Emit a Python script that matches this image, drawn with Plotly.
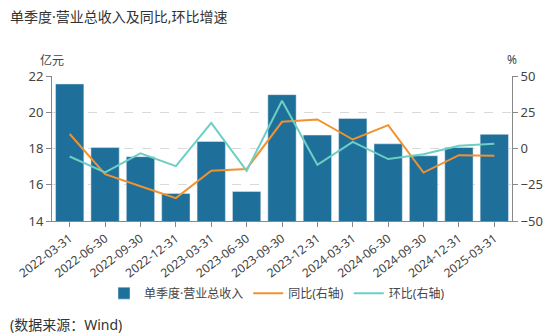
import plotly.graph_objects as go

dates = ["2022-03-31", "2022-06-30", "2022-09-30", "2022-12-31", "2023-03-31", "2023-06-30",
         "2023-09-30", "2023-12-31", "2024-03-31", "2024-06-30", "2024-09-30", "2024-12-31", "2025-03-31"]
revenue = [21.56, 18.05, 17.55, 15.52, 18.39, 15.63, 20.97, 18.74, 19.66, 18.26, 17.6, 18.06, 18.78]
yoy = [10.0, -17.7, -26.0, -34.2, -15.4, -14.2, 18.4, 20.0, 6.2, 16.1, -16.6, -4.6, -5.0]
qoq = [-5.5, -16.5, -3.4, -12.2, 17.7, -15.4, 32.9, -11.2, 4.6, -7.3, -3.9, 1.9, 3.2]

FONT = "Noto Sans, Noto Sans CJK SC"
BAR = "#1f6f9b"
ORANGE = "#f0922e"
TEAL = "#6ccfc3"
AX = "#888888"
TXT = "#444444"

fig = go.Figure()
fig.add_trace(go.Bar(x=dates, y=revenue, name="单季度·营业总收入", marker_color=BAR, yaxis="y"))
fig.add_trace(go.Scatter(x=dates, y=yoy, name="同比(右轴)", mode="lines",
                         line=dict(color=ORANGE, width=2), yaxis="y2"))
fig.add_trace(go.Scatter(x=dates, y=qoq, name="环比(右轴)", mode="lines",
                         line=dict(color=TEAL, width=2), yaxis="y2"))

fig.update_layout(
    width=554, height=335,
    margin=dict(l=52, r=42, t=76, b=114, autoexpand=False),
    paper_bgcolor="white", plot_bgcolor="white",
    font=dict(family=FONT, size=12, color=TXT),
    bargap=0.2,
    showlegend=True,
    legend=dict(orientation="h", x=0.5, xanchor="center", xref="container",
                y=0.125, yref="container", yanchor="middle",
                font=dict(size=12, color=TXT), itemwidth=30, traceorder="normal"),
    xaxis=dict(type="category", showline=True, linecolor=AX, linewidth=1,
               ticks="outside", ticklen=5, tickcolor=AX, tickangle=-37,
               tickfont=dict(size=12, color=TXT), showgrid=False, automargin=False),
    yaxis=dict(range=[14, 22], dtick=2, showline=True, linecolor=AX, linewidth=1,
               ticks="outside", ticklen=5, tickcolor=AX, automargin=False,
               showgrid=True, gridcolor="#d9d9d9", griddash="dash", gridwidth=1,
               zeroline=False, tickfont=dict(size=13, color=TXT)),
    yaxis2=dict(range=[-50, 50], dtick=25, overlaying="y", side="right",
                showline=True, linecolor=AX, linewidth=1, automargin=False,
                ticks="outside", ticklen=5, tickcolor=AX, showgrid=False,
                zeroline=False, tickfont=dict(size=13, color=TXT)),
)

fig.add_annotation(text="单季度·营业总收入及同比,环比增速", xref="paper", yref="paper",
                   x=-44/460, y=1 + 60/145, xanchor="left", yanchor="middle",
                   showarrow=False, font=dict(size=14, color="#333333"))
fig.add_annotation(text="亿元", xref="paper", yref="paper", x=0, y=1 + 16/145,
                   xanchor="center", yanchor="middle", showarrow=False,
                   font=dict(size=12, color=TXT))
fig.add_annotation(text="%", xref="paper", yref="paper", x=1, y=1 + 17/145,
                   xanchor="center", yanchor="middle", showarrow=False,
                   font=dict(size=12, color=TXT))
fig.add_annotation(text="(数据来源：Wind)", xref="paper", yref="paper",
                   x=-44/460, y=-(324 - 221) / 145, xanchor="left", yanchor="middle",
                   showarrow=False, font=dict(size=14, color="#333333"))

fig.write_html("out.html")
